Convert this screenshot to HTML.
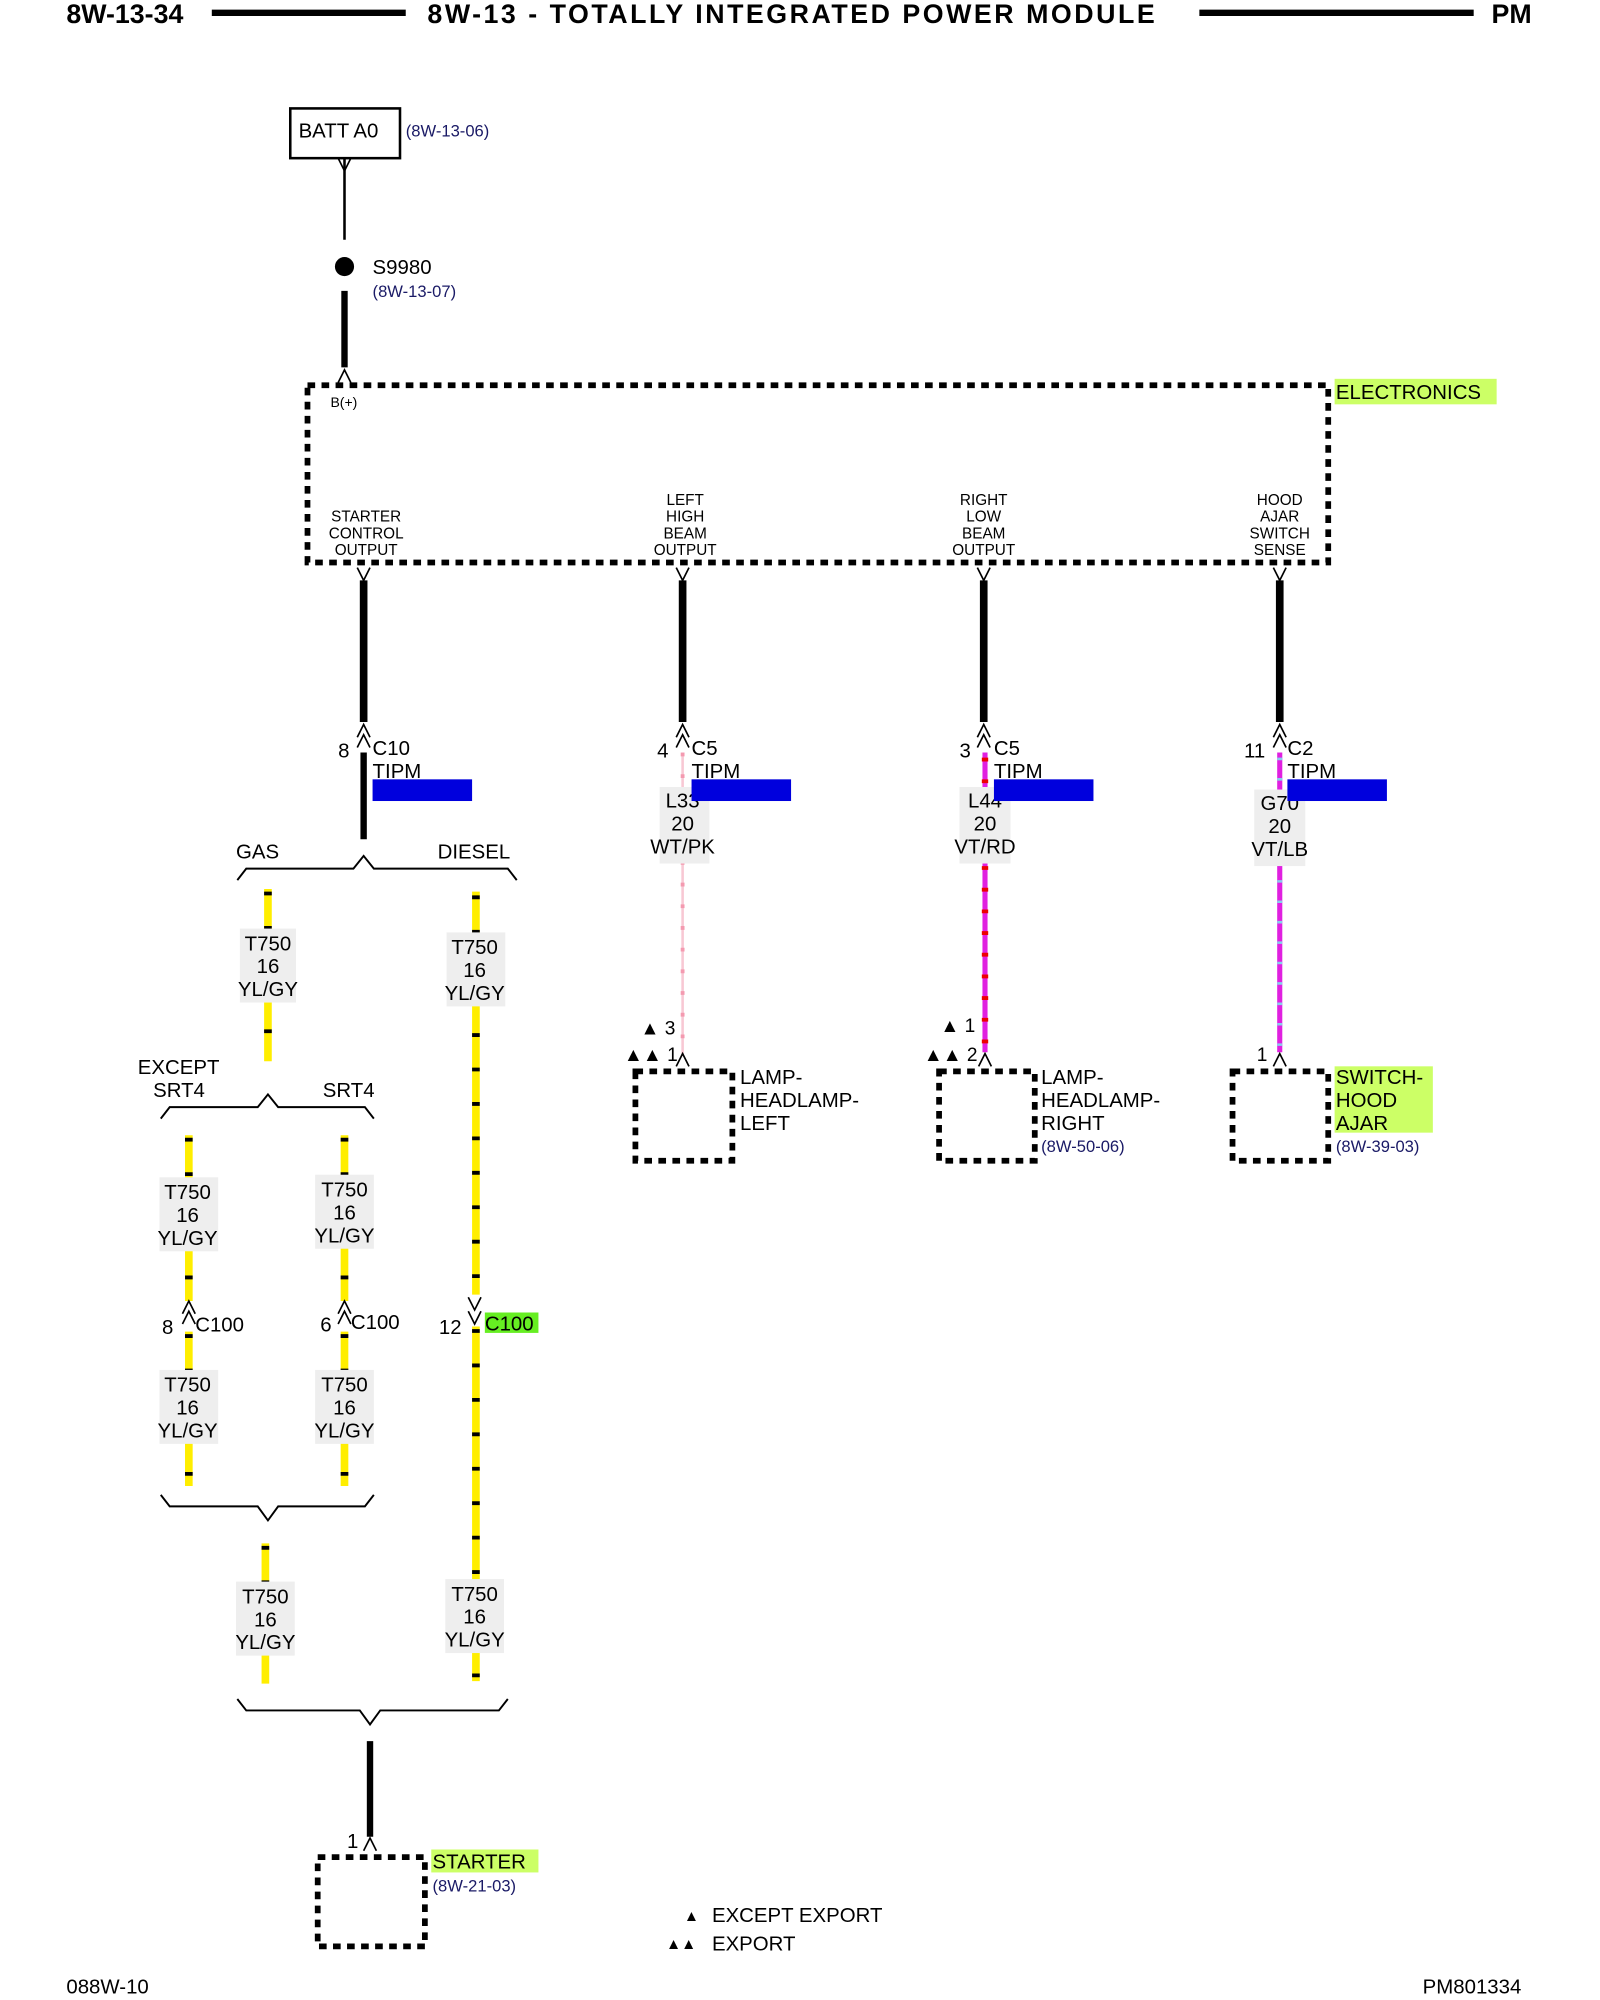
<!DOCTYPE html>
<html><head><meta charset="utf-8"><style>
html,body{margin:0;padding:0;background:#fff;}
svg{display:block;}
text{font-family:"Liberation Sans",sans-serif;fill:#000;}
.n{fill:#1a1a66;}
</style></head><body>
<svg width="1600" height="2000" viewBox="0 0 1254 1568" preserveAspectRatio="none" xmlns="http://www.w3.org/2000/svg">
<defs>
<g id="up"><path d="M-5,10 L0,0 L5,10" fill="none" stroke="#000" stroke-width="1.3"/></g>
<g id="dn"><path d="M-5,0 L0,10 L5,0" fill="none" stroke="#000" stroke-width="1.3"/></g>
</defs>
<!-- header -->
<text x="52" y="18" font-size="21" font-weight="bold">8W-13-34</text>
<line x1="166" y1="10" x2="318" y2="10" stroke="#000" stroke-width="5"/>
<text x="335" y="18" font-size="21" font-weight="bold" textLength="570">8W-13 - TOTALLY INTEGRATED POWER MODULE</text>
<line x1="940" y1="10" x2="1155" y2="10" stroke="#000" stroke-width="5"/>
<text x="1169" y="18" font-size="21" font-weight="bold">PM</text>

<!-- BATT -->
<rect x="227.5" y="85" width="86" height="39" fill="none" stroke="#000" stroke-width="2"/>
<text x="234" y="108" font-size="16">BATT A0</text>
<text x="318" y="107" font-size="13" class="n">(8W-13-06)</text>
<use href="#dn" x="270" y="124"/>
<line x1="270" y1="124" x2="270" y2="188" stroke="#000" stroke-width="2"/>
<circle cx="270" cy="209" r="7.5" fill="#000"/>
<text x="292" y="215" font-size="16">S9980</text>
<text x="292" y="233" font-size="13" class="n">(8W-13-07)</text>
<line x1="270" y1="228" x2="270" y2="288" stroke="#000" stroke-width="5"/>
<use href="#up" x="270" y="290"/>

<!-- electronics box -->
<rect x="241" y="302" width="800" height="139" fill="none" stroke="#000" stroke-width="4.5" stroke-dasharray="6 5"/>
<text x="259" y="319" font-size="11">B(+)</text>
<rect x="1046" y="297" width="127" height="20" fill="#ccff66"/>
<text x="1047" y="313" font-size="16">ELECTRONICS</text>
<g font-size="12" text-anchor="middle">
<text x="287" y="409">STARTER</text><text x="287" y="422">CONTROL</text><text x="287" y="435">OUTPUT</text>
<text x="537" y="396">LEFT</text><text x="537" y="409">HIGH</text><text x="537" y="422">BEAM</text><text x="537" y="435">OUTPUT</text>
<text x="771" y="396">RIGHT</text><text x="771" y="409">LOW</text><text x="771" y="422">BEAM</text><text x="771" y="435">OUTPUT</text>
<text x="1003" y="396">HOOD</text><text x="1003" y="409">AJAR</text><text x="1003" y="422">SWITCH</text><text x="1003" y="435">SENSE</text>
</g>
<!-- outputs -->
<g>
<use href="#dn" x="285" y="445"/><use href="#dn" x="535" y="445"/><use href="#dn" x="771" y="445"/><use href="#dn" x="1003" y="445"/>
<line x1="285" y1="455" x2="285" y2="566" stroke="#000" stroke-width="6"/>
<line x1="535" y1="455" x2="535" y2="566" stroke="#000" stroke-width="6"/>
<line x1="771" y1="455" x2="771" y2="566" stroke="#000" stroke-width="6"/>
<line x1="1003" y1="455" x2="1003" y2="566" stroke="#000" stroke-width="6"/>
<use href="#up" x="285" y="568"/><use href="#up" x="285" y="576"/>
<use href="#up" x="535" y="568"/><use href="#up" x="535" y="576"/>
<use href="#up" x="771" y="568"/><use href="#up" x="771" y="576"/>
<use href="#up" x="1003" y="568"/><use href="#up" x="1003" y="576"/>
</g>
<g font-size="16">
<text x="265" y="594">8</text><text x="292" y="592">C10</text><text x="292" y="610">TIPM</text>
<text x="515" y="594">4</text><text x="542" y="592">C5</text><text x="542" y="610">TIPM</text>
<text x="752" y="594">3</text><text x="779" y="592">C5</text><text x="779" y="610">TIPM</text>
<text x="975" y="594">11</text><text x="1009" y="592">C2</text><text x="1009" y="610">TIPM</text>
</g>
<rect x="292" y="611" width="78" height="17" fill="#0000dd"/>

<!-- colored wires -->
<line x1="535" y1="590" x2="535" y2="828" stroke="#f8c8d4" stroke-width="2"/>
<line x1="535" y1="590" x2="535" y2="828" stroke="#f49ab0" stroke-width="3" stroke-dasharray="3 14"/>
<line x1="772" y1="590" x2="772" y2="825" stroke="#e020e0" stroke-width="4"/>
<line x1="772" y1="594" x2="772" y2="825" stroke="#ee0000" stroke-width="5" stroke-dasharray="3 14"/>
<line x1="1003" y1="590" x2="1003" y2="825" stroke="#e020e0" stroke-width="4"/>
<line x1="1003" y1="594" x2="1003" y2="825" stroke="#88ccee" stroke-width="4" stroke-dasharray="2 14"/>
<g font-size="16" text-anchor="middle">
<rect x="517" y="617" width="39" height="60" fill="#eeeeee"/>
<text x="535" y="633">L33</text><text x="535" y="651">20</text><text x="535" y="669">WT/PK</text>
<rect x="752" y="617" width="40" height="60" fill="#eeeeee"/>
<text x="772" y="633">L44</text><text x="772" y="651">20</text><text x="772" y="669">VT/RD</text>
<rect x="983" y="619" width="40" height="60" fill="#eeeeee"/>
<text x="1003" y="635">G70</text><text x="1003" y="653">20</text><text x="1003" y="671">VT/LB</text>
</g>
<rect x="542" y="611" width="78" height="17" fill="#0000dd"/>
<rect x="779" y="611" width="78" height="17" fill="#0000dd"/>
<rect x="1009" y="611" width="78" height="17" fill="#0000dd"/>

<!-- lamp components -->
<g font-size="15">
<text x="502" y="811">▲ 3</text><text x="489" y="832">▲▲ 1</text>
<text x="737" y="809">▲ 1</text><text x="724" y="832">▲▲ 2</text>
<text x="985" y="832">1</text>
</g>
<use href="#up" x="535" y="826"/><use href="#up" x="772" y="826"/><use href="#up" x="1003" y="826"/>
<rect x="498" y="840" width="76" height="70" fill="none" stroke="#000" stroke-width="4.5" stroke-dasharray="6 5"/>
<rect x="736" y="840" width="75" height="70" fill="none" stroke="#000" stroke-width="4.5" stroke-dasharray="6 5"/>
<rect x="966" y="840" width="75" height="70" fill="none" stroke="#000" stroke-width="4.5" stroke-dasharray="6 5"/>
<rect x="1046" y="836" width="77" height="52" fill="#ccff66"/>
<g font-size="16">
<text x="580" y="850">LAMP-</text><text x="580" y="868">HEADLAMP-</text><text x="580" y="886">LEFT</text>
<text x="816" y="850">LAMP-</text><text x="816" y="868">HEADLAMP-</text><text x="816" y="886">RIGHT</text>
<text x="1047" y="850">SWITCH-</text><text x="1047" y="868">HOOD</text><text x="1047" y="886">AJAR</text>
</g>
<text x="816" y="903" font-size="13" class="n">(8W-50-06)</text>
<text x="1047" y="903" font-size="13" class="n">(8W-39-03)</text>

<!-- starter branch -->
<line x1="285" y1="590" x2="285" y2="658" stroke="#000" stroke-width="5"/>
<g fill="none" stroke="#000" stroke-width="1.5">
<path d="M186,690 L193,681 L277,681 L285,671 L293,681 L398,681 L405,690"/>
<path d="M126,877 L133,868 L202,868 L210,858 L218,868 L286,868 L293,877"/>
<path d="M126,1172 L133,1181 L202,1181 L210,1192 L218,1181 L286,1181 L293,1172"/>
<path d="M186,1332 L193,1341 L282,1341 L290,1352 L298,1341 L391,1341 L398,1332"/>
</g>
<g font-size="16">
<text x="185" y="673">GAS</text><text x="343" y="673">DIESEL</text>
<text x="108" y="842">EXCEPT</text><text x="120" y="860">SRT4</text><text x="253" y="860">SRT4</text>
</g>
<!-- yellow wires -->
<g stroke-width="6">
<line x1="210" y1="697" x2="210" y2="832" stroke="#ffee00"/>
<line x1="210" y1="699" x2="210" y2="832" stroke="#000" stroke-dasharray="3 24"/>
<line x1="373" y1="699" x2="373" y2="1015" stroke="#ffee00"/>
<line x1="373" y1="702" x2="373" y2="1015" stroke="#000" stroke-dasharray="3 24"/>
<line x1="148" y1="890" x2="148" y2="1020" stroke="#ffee00"/>
<line x1="148" y1="892" x2="148" y2="1020" stroke="#000" stroke-dasharray="3 24"/>
<line x1="270" y1="890" x2="270" y2="1020" stroke="#ffee00"/>
<line x1="270" y1="892" x2="270" y2="1020" stroke="#000" stroke-dasharray="3 24"/>
<line x1="148" y1="1044" x2="148" y2="1165" stroke="#ffee00"/>
<line x1="148" y1="1046" x2="148" y2="1165" stroke="#000" stroke-dasharray="3 24"/>
<line x1="270" y1="1044" x2="270" y2="1165" stroke="#ffee00"/>
<line x1="270" y1="1046" x2="270" y2="1165" stroke="#000" stroke-dasharray="3 24"/>
<line x1="373" y1="1040" x2="373" y2="1318" stroke="#ffee00"/>
<line x1="373" y1="1042" x2="373" y2="1318" stroke="#000" stroke-dasharray="3 24"/>
<line x1="208" y1="1210" x2="208" y2="1320" stroke="#ffee00"/>
<line x1="208" y1="1212" x2="208" y2="1320" stroke="#000" stroke-dasharray="3 24"/>
</g>
<g font-size="16" text-anchor="middle">
<rect x="188" y="728" width="44" height="58" fill="#eeeeee"/>
<text x="210" y="745">T750</text><text x="210" y="763">16</text><text x="210" y="781">YL/GY</text>
<rect x="350" y="731" width="46" height="58" fill="#eeeeee"/>
<text x="372" y="748">T750</text><text x="372" y="766">16</text><text x="372" y="784">YL/GY</text>
<rect x="125" y="923" width="46" height="58" fill="#eeeeee"/>
<text x="147" y="940">T750</text><text x="147" y="958">16</text><text x="147" y="976">YL/GY</text>
<rect x="247" y="921" width="46" height="58" fill="#eeeeee"/>
<text x="270" y="938">T750</text><text x="270" y="956">16</text><text x="270" y="974">YL/GY</text>
<rect x="125" y="1074" width="46" height="58" fill="#eeeeee"/>
<text x="147" y="1091">T750</text><text x="147" y="1109">16</text><text x="147" y="1127">YL/GY</text>
<rect x="247" y="1074" width="46" height="58" fill="#eeeeee"/>
<text x="270" y="1091">T750</text><text x="270" y="1109">16</text><text x="270" y="1127">YL/GY</text>
<rect x="185" y="1240" width="46" height="58" fill="#eeeeee"/>
<text x="208" y="1257">T750</text><text x="208" y="1275">16</text><text x="208" y="1293">YL/GY</text>
<rect x="349" y="1238" width="46" height="58" fill="#eeeeee"/>
<text x="372" y="1255">T750</text><text x="372" y="1273">16</text><text x="372" y="1291">YL/GY</text>
</g>
<!-- C100 -->
<use href="#up" x="148" y="1020"/><use href="#up" x="148" y="1028"/>
<use href="#up" x="270" y="1020"/><use href="#up" x="270" y="1028"/>
<use href="#dn" x="372" y="1017"/><use href="#dn" x="372" y="1028"/>
<rect x="380" y="1029" width="42" height="16" fill="#66ee22"/>
<g font-size="16">
<text x="127" y="1046">8</text><text x="153" y="1044">C100</text>
<text x="251" y="1044">6</text><text x="275" y="1042">C100</text>
<text x="344" y="1046">12</text><text x="380" y="1043">C100</text>
</g>
<!-- starter -->
<line x1="290" y1="1365" x2="290" y2="1440" stroke="#000" stroke-width="5"/>
<use href="#up" x="290" y="1441"/>
<text x="272" y="1449" font-size="16">1</text>
<rect x="249" y="1456" width="84" height="70" fill="none" stroke="#000" stroke-width="4.5" stroke-dasharray="6 5"/>
<rect x="338" y="1450" width="84" height="18" fill="#ccff66"/>
<text x="339" y="1465" font-size="16">STARTER</text>
<text x="339" y="1483" font-size="13" class="n">(8W-21-03)</text>
<!-- legend -->
<g font-size="16">
<text x="536" y="1506" font-size="12">▲</text><text x="558" y="1507">EXCEPT EXPORT</text>
<text x="522" y="1528" font-size="12">▲▲</text><text x="558" y="1529">EXPORT</text>
</g>
<text x="52" y="1563" font-size="16">088W-10</text>
<text x="1115" y="1563" font-size="16">PM801334</text>
</svg>
</body></html>
